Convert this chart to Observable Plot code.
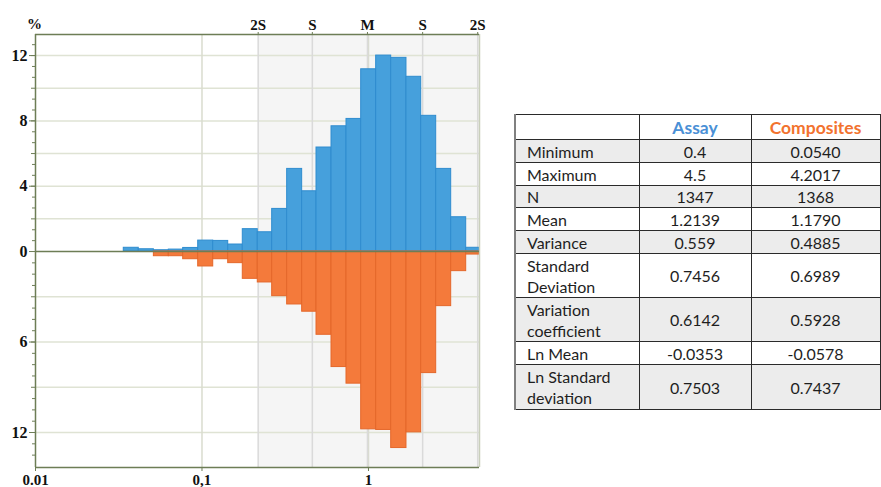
<!DOCTYPE html>
<html>
<head>
<meta charset="utf-8">
<script src="https://cdn.jsdelivr.net/npm/d3@7"></script>
<script src="https://cdn.jsdelivr.net/npm/@observablehq/plot@0.6"></script>
<style>
  html, body { margin: 0; padding: 0; background: #fff; }
  #wrap { position: relative; width: 881px; height: 487px; overflow: hidden; }
  #chart { position: absolute; left: 0; top: 0; }
  #stats { position: absolute; left: 514px; top: 114px; border-collapse: collapse; table-layout: fixed;
    font-family: Lato, "Open Sans", sans-serif; font-size: 16px; color: #1e1e1e; }
  #stats td { border: 1px solid #2a2a2a; padding: 0; line-height: 21px; }
  #stats td.lab { padding-left: 11px; text-align: left; }
  #stats td.val { text-align: center; }
  #stats tr.g td { background: #ececec; }
  #stats td:first-child { border-left: 2px solid #808080; }
  #stats th { border: 1px solid #2a2a2a; font-weight: bold; font-size: 17.5px; background: #fff; padding: 0; }
</style>
</head>
<body>
<div id="wrap">
  <div id="chart"></div>
  <table id="stats"></table>
</div>
<script>
// ---- histogram data (percent of samples per log bin) ----
const binEdges = [0.0339, 0.0417, 0.0514, 0.0632, 0.0771, 0.0949, 0.1168, 0.1437, 0.1758, 0.2163,
  0.2640, 0.3248, 0.3996, 0.4873, 0.5997, 0.7378, 0.9041, 1.1123, 1.3690, 1.6911,
  2.0727, 2.5507, 3.1387, 3.8627, 4.643];
const assayPct = [0.23, 0.14, 0.08, 0.12, 0.22, 0.67, 0.65, 0.43, 1.37, 1.18, 2.61, 5.06,
  3.69, 6.37, 7.67, 8.12, 11.16, 12.0, 11.86, 10.70, 8.31, 5.06, 2.10, 0.23];
const compositesPct = [0, 0, 0.31, 0.31, 0.51, 0.99, 0.51, 0.77, 1.81, 2.05, 2.96, 3.51,
  3.99, 5.52, 7.66, 8.76, 11.79, 11.83, 13.03, 11.99, 8.06, 3.62, 1.30, 0.20];

// ---- axis / reference values ----
const xDomain = [0.01, 4.643];
const xTickValues = [0.01, 0.1, 1];
const xTickLabels = ["0.01", "0,1", "1"];
const statValues = [0.2175, 0.46, 0.986, 2.115, 4.53];
const statLabels = ["2S", "S", "M", "S", "2S"];
const yTopMax = 13.29;      // % at top of frame (assay half)
const yBottomMax = 14.32;   // % at bottom of frame (composites half)
const bottomRatio = 0.9235; // composites half is drawn slightly compressed
const yLabelTicks = [12, 8, 4, 0, -6, -12];
const yGridTop = [2, 4, 6, 8, 10, 12];
const yGridBottom = [-3, -6, -9, -12];
const yMinorTop = [0.667, 1.333, 2.667, 3.333, 4.667, 5.333, 6.667, 7.333, 8.667, 9.333, 10.667, 11.333, 12.667];
const yMinorBottom = [-0.75, -1.5, -2.25, -3.75, -4.5, -5.25, -6.75, -7.5, -8.25, -9.75, -10.5, -11.25, -12.75, -13.5];

// ---- stats table ----
const rowLabels = ["Minimum", "Maximum", "N", "Mean", "Variance", "Standard\nDeviation",
  "Variation\ncoefficient", "Ln Mean", "Ln Standard\ndeviation"];
const assayStats = ["0.4", "4.5", "1347", "1.2139", "0.559", "0.7456", "0.6142", "-0.0353", "0.7503"];
const compositesStats = ["0.0540", "4.2017", "1368", "1.1790", "0.4885", "0.6989", "0.5928", "-0.0578", "0.7437"];
const seriesNames = ["Assay", "Composites"];

const blue = "#46a0dc", blueEdge = "#2f8ccf";
const orange = "#f47a3b", orangeEdge = "#e4672a";
const axisCol = "#6d7d56", gridCol = "#dfe3d4", statGridCol = "#dadada";

const bins = assayPct.map((a, i) => ({x1: binEdges[i], x2: binEdges[i + 1], assay: a, comp: compositesPct[i]}));

const serif = "'Liberation Serif', 'DejaVu Serif', serif";
const W = 495, H = 487;
const labelFont = {fill: "#111", fontFamily: serif, fontWeight: "bold"};

const chart = Plot.plot({
  width: W, height: H,
  marginLeft: 35, marginRight: 16, marginTop: 34, marginBottom: 20,
  x: {type: "log", domain: xDomain, axis: null},
  y: {
    transform: v => (v < 0 ? v * bottomRatio : v),
    domain: [-yBottomMax * bottomRatio, yTopMax],
    axis: null
  },
  marks: [
    // shaded +-2S band
    Plot.rect([0], {x1: statValues[0], x2: xDomain[1], y1: -yBottomMax, y2: yTopMax, fill: "#f5f5f5"}),
    // horizontal grid
    Plot.ruleY(yGridTop.concat(yGridBottom), {stroke: gridCol, strokeWidth: 1.5}),
    // vertical grid
    Plot.ruleX([0.1, 1], {stroke: "#d9dccf", strokeWidth: 1.5}),
    Plot.ruleX(statValues, {stroke: statGridCol, strokeWidth: 1.5}),
    // bars
    Plot.rectY(bins.filter(d => d.assay > 0), {x1: "x1", x2: "x2", y: "assay", fill: blue, stroke: blueEdge, strokeWidth: 1}),
    Plot.rectY(bins.filter(d => d.comp > 0), {x1: "x1", x2: "x2", y: d => -d.comp, fill: orange, stroke: orangeEdge, strokeWidth: 1}),
    // frame
    Plot.ruleX([xDomain[1]], {stroke: "#c9cfbb", strokeWidth: 1.5}),
    Plot.ruleY([yTopMax], {stroke: axisCol, strokeWidth: 1.5}),
    Plot.ruleY([-yBottomMax], {stroke: axisCol, strokeWidth: 1.5}),
    Plot.ruleY([0], {stroke: axisCol, strokeWidth: 1.5}),
    Plot.ruleX([xDomain[0]], {stroke: axisCol, strokeWidth: 1.5}),
    // left axis ticks
    Plot.axisY(yMinorTop.concat(yMinorBottom), {tickSize: 3, text: null, stroke: axisCol, label: null}),
    Plot.axisY(yGridTop.concat(yGridBottom), {tickSize: 4, text: null, stroke: axisCol, label: null}),
    Plot.axisY(yLabelTicks, {tickSize: 6, tickPadding: 2, tickFormat: d => String(Math.abs(d)), stroke: axisCol,
      fontSize: 16, label: null, ...labelFont}),
    // bottom axis
    Plot.axisX(xTickValues, {anchor: "bottom", tickSize: 4, text: null, stroke: axisCol, label: null}),
    Plot.text(xTickValues, {x: d => d, text: (d, i) => xTickLabels[i], frameAnchor: "bottom", dy: 7,
      lineAnchor: "top", textAnchor: "middle", fontSize: 15, ...labelFont}),
    // top stats axis
    Plot.axisX(statValues, {anchor: "top", tickSize: 3, text: null, stroke: axisCol, label: null}),
    Plot.text(statValues, {x: d => d, text: (d, i) => statLabels[i], frameAnchor: "top", dy: -5,
      lineAnchor: "bottom", textAnchor: "middle", fontSize: 15, ...labelFont}),
    // % label
    Plot.text(["%"], {frameAnchor: "top-left", dx: -1, dy: -6, lineAnchor: "bottom", textAnchor: "middle",
      fontSize: 15, ...labelFont})
  ]
});
document.getElementById("chart").appendChild(chart);

// build table
const colW = [124, 112, 129];
const rowH = [23, 23, 22, 23, 23, 44, 44, 23, 45];
const table = document.getElementById("stats");
const cg = document.createElement("colgroup");
colW.forEach(w => { const c = document.createElement("col"); c.style.width = w + "px"; cg.appendChild(c); });
table.appendChild(cg);
const hr = document.createElement("tr");
["", ...seriesNames].forEach((t, i) => {
  const th = document.createElement("th");
  th.textContent = t;
  th.style.height = "24px";
  if (i === 1) th.style.color = "#4a90d6";
  if (i === 2) th.style.color = "#f2722e";
  if (i === 0) th.style.borderLeft = "2px solid #808080";
  hr.appendChild(th);
});
table.appendChild(hr);
rowLabels.forEach((lab, r) => {
  const tr = document.createElement("tr");
  if (r % 2 === 0) tr.className = "g";
  const cells = [lab, assayStats[r], compositesStats[r]];
  cells.forEach((t, i) => {
    const td = document.createElement("td");
    td.className = i === 0 ? "lab" : "val";
    td.style.height = (rowH[r] - 1) + "px";
    t.split("\n").forEach((line, k) => {
      if (k > 0) td.appendChild(document.createElement("br"));
      td.appendChild(document.createTextNode(line));
    });
    tr.appendChild(td);
  });
  table.appendChild(tr);
});
</script>
</body>
</html>
